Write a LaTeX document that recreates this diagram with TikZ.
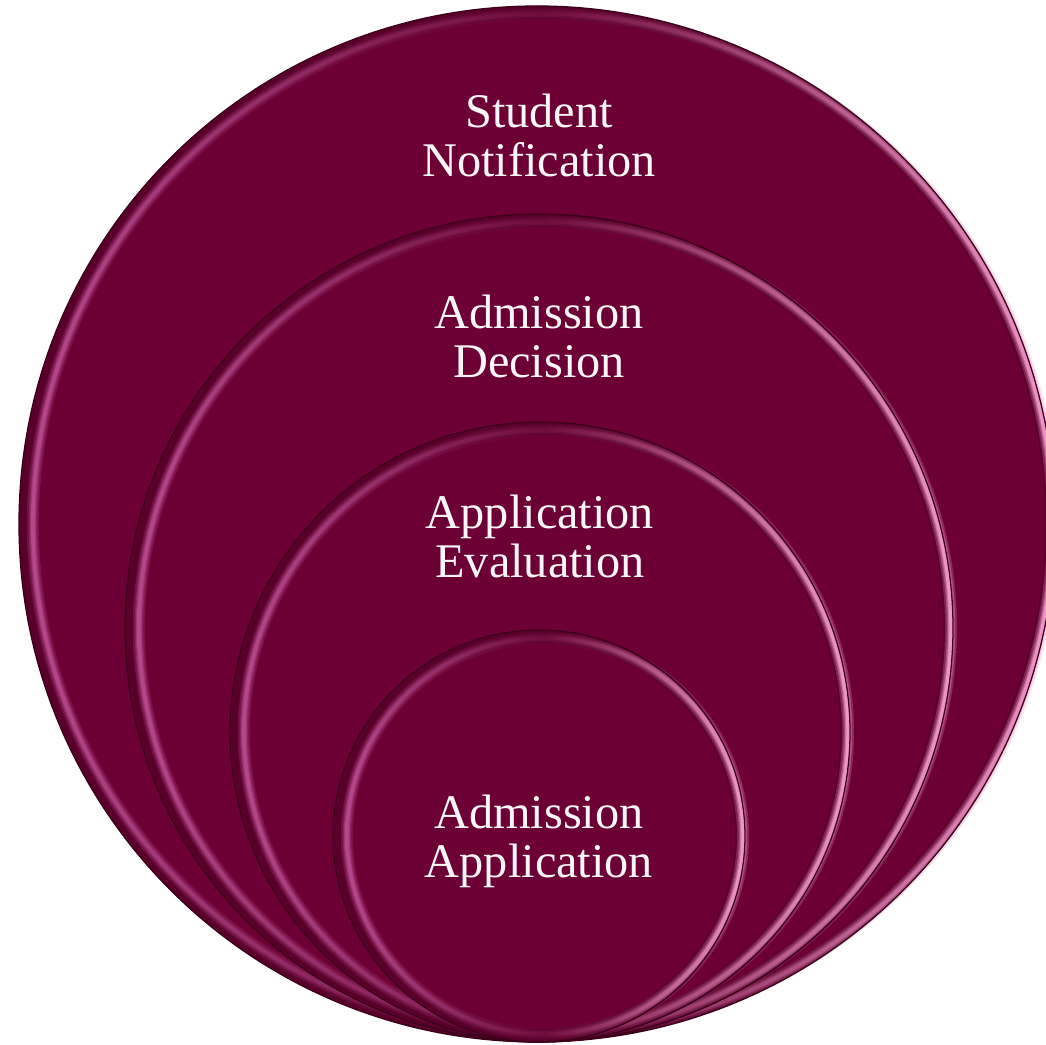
\documentclass[tikz,border=0pt]{standalone}
\usepackage{fontspec}
\setmainfont{Liberation Serif}
\usepackage{tikz}

\definecolor{discbody}{HTML}{6C0034}
\definecolor{discrim}{HTML}{58002A}
\definecolor{discedge}{HTML}{3A0018}
\definecolor{glowleft}{HTML}{B84A8E}
\definecolor{glowtop}{HTML}{700E3E}
\definecolor{glowright}{HTML}{F49CCE}
\definecolor{disctextcol}{HTML}{FAF5F7}

\begin{document}
\begin{tikzpicture}[x=0.2mm,y=0.2mm,line join=round,
  disctext/.style={text=disctextcol,align=center,font=\fontsize{27.5}{27.9}\selectfont},
  % middle color has to come last, left/right color reset it
  rimglow/.style={even odd rule,left color=glowleft,right color=glowright,middle color=glowtop}]
  % ---- canvas ------------------------------------------------------------
  \useasboundingbox (0,0) rectangle (1046,1045);
  \clip (0,0) rectangle (1046,1045);

  % ---- nested discs, outermost first (all resting on the same bottom) ----
  \foreach \cx/\cy/\r in {537/521/518, 539/417/414, 540/313/310, 539/209/206}{
    % dark rim band
    \fill[discrim] (\cx,\cy) circle (\r);
    % raised face
    \fill[discbody] (\cx+3,\cy) circle (\r-13);
    % lit edge of the rim, built up from soft to sharp
    \foreach \w/\o in {6/0.25, 4.2/0.35, 2.8/0.5, 1.7/0.9}
      \shade[rimglow,opacity=\o]
        (\cx+6,\cy) circle (\r-8+\w) (\cx+6,\cy) circle (\r-8-\w);
    % outline
    \draw[discedge,line width=0.25mm] (\cx,\cy) circle (\r);
  }

  % ---- stage labels ------------------------------------------------------
  \node[disctext] (notify)   at (539,910) {Student\\Notification};
  \node[disctext] (decide)   at (539,709) {Admission\\Decision};
  \node[disctext] (evaluate) at (540,509) {Application\\Evaluation};
  \node[disctext] (apply)    at (539,204) {Admission\\Application};
\end{tikzpicture}
\end{document}
